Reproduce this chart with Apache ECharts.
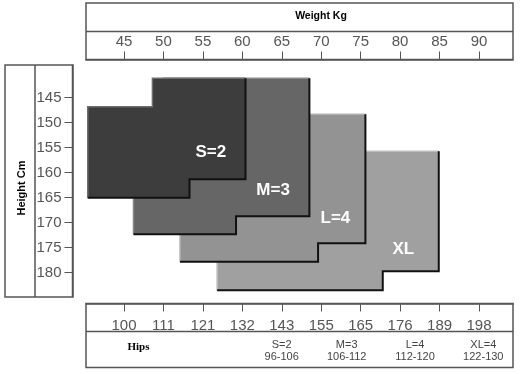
<!DOCTYPE html>
<html>
<head>
<meta charset="utf-8">
<script src="https://cdn.jsdelivr.net/npm/echarts@6/dist/echarts.min.js"></script>
<style>html,body{margin:0;padding:0;background:#fff}#c{width:526px;height:374px}</style>
</head>
<body>
<div id="c"></div>
<script>
// ---- data ----
var weightTicks = [45, 50, 55, 60, 65, 70, 75, 80, 85, 90];
var hipsTicks = ['100', '111', '121', '132', '143', '155', '165', '176', '189', '198'];
var heightTicks = [145, 150, 155, 160, 165, 170, 175, 180];
var sizeNames = ['S=2', 'M=3', 'L=4', 'XL'];
var hipSizeNames = ['S=2', 'M=3', 'L=4', 'XL=4'];
var hipRanges = ['96-106', '106-112', '112-120', '122-130'];
// outlines [weight kg, height cm], clockwise from the upper-left corner
var shapeS = [[40.4, 146.8], [48.6, 146.8], [48.6, 141.1], [60.4, 141.1], [60.4, 161.3], [53.3, 161.3], [53.3, 165.0], [40.4, 165.0]];
var shapeM = [[46.2, 150.0], [50.0, 150.0], [50.0, 141.1], [68.5, 141.1], [68.5, 168.7], [59.2, 168.7], [59.2, 172.3], [46.2, 172.3]];
var shapeL = [[52.1, 168.0], [58.0, 168.0], [58.0, 148.3], [75.6, 148.3], [75.6, 174.1], [69.6, 174.1], [69.6, 177.8], [52.1, 177.8]];
var shapeXL = [[56.8, 175.0], [66.0, 175.0], [66.0, 155.7], [84.9, 155.7], [84.9, 179.7], [77.8, 179.7], [77.8, 183.5], [56.8, 183.5]];
var labelWeight = [56.0, 63.9, 71.8, 80.4];
var labelHeight = [156.0, 163.5, 169.2, 175.3];

var shapes = [shapeS, shapeM, shapeL, shapeXL];
var fills = ['#3d3d3d', '#666666', '#939393', '#a0a0a0'];
var lights = ['#6e6e6e', '#8a8a8a', '#b2b2b2', '#bdbdbd'];

var FONT = 'Liberation Sans, Arial, sans-serif';
var XMIN = 40.18, XMAX = 94.31, YMIN = 138.46, YMAX = 184.86;
var lineCol = '#555';

var chart = echarts.init(document.getElementById('c'), null, {renderer: 'canvas'});

var order = [3, 2, 1, 0];
var option = {
  animation: false,
  backgroundColor: '#fff',
  grid: [
    {left: 86, top: 65, width: 427, height: 232, show: false},
    {left: 86, top: 3, width: 427, height: 56.5, show: true, borderColor: lineCol, borderWidth: 1.5, backgroundColor: 'transparent'},
    {left: 86, top: 303.5, width: 427, height: 64, show: true, borderColor: lineCol, borderWidth: 1.5, backgroundColor: 'transparent'},
    {left: 5, top: 65, width: 67.5, height: 232, show: true, borderColor: lineCol, borderWidth: 1.5, backgroundColor: 'transparent'}
  ],
  xAxis: [
    {gridIndex: 0, type: 'value', min: XMIN, max: XMAX, show: false},
    {gridIndex: 1, type: 'value', min: XMIN, max: XMAX, position: 'bottom',
      axisLine: {show: true, onZero: false, lineStyle: {color: lineCol, width: 1.5}},
      axisTick: {show: true, inside: true, length: 8, customValues: weightTicks, lineStyle: {color: lineCol, width: 1}},
      axisLabel: {show: true, inside: true, margin: 10, customValues: weightTicks, color: '#555', fontSize: 15, fontFamily: FONT,
        formatter: function (v) { return String(Math.round(v)); }},
      splitLine: {show: false}},
    {gridIndex: 2, type: 'value', min: XMIN, max: XMAX, position: 'top',
      axisLine: {show: true, onZero: false, lineStyle: {color: lineCol, width: 1.5}},
      axisTick: {show: true, inside: true, length: 8, customValues: weightTicks, lineStyle: {color: lineCol, width: 1}},
      axisLabel: {show: true, inside: true, margin: 15, customValues: weightTicks, color: '#555', fontSize: 15, fontFamily: FONT,
        formatter: function (v) { var i = weightTicks.indexOf(Math.round(v)); return i >= 0 ? hipsTicks[i] : ''; }},
      splitLine: {show: false}},
    {gridIndex: 3, type: 'value', min: 0, max: 1, show: false}
  ],
  yAxis: [
    {gridIndex: 0, type: 'value', min: YMIN, max: YMAX, inverse: true, show: false},
    {gridIndex: 1, type: 'value', min: 0, max: 1, show: false},
    {gridIndex: 2, type: 'value', min: 0, max: 1, show: false},
    {gridIndex: 3, type: 'value', min: YMIN, max: YMAX, inverse: true, position: 'right',
      axisLine: {show: true, onZero: false, lineStyle: {color: lineCol, width: 1.5}},
      axisTick: {show: true, inside: true, length: 8, customValues: heightTicks, lineStyle: {color: lineCol, width: 1}},
      axisLabel: {show: true, inside: true, margin: 11, customValues: heightTicks, color: '#555', fontSize: 15, fontFamily: FONT,
        formatter: function (v) { return String(Math.round(v)); }},
      splitLine: {show: false}}
  ],
  graphic: [
    {type: 'line', shape: {x1: 86, y1: 31.5, x2: 513, y2: 31.5}, style: {stroke: lineCol, lineWidth: 1.5}},
    {type: 'line', shape: {x1: 86, y1: 331.5, x2: 513, y2: 331.5}, style: {stroke: lineCol, lineWidth: 1.5}},
    {type: 'line', shape: {x1: 35, y1: 65, x2: 35, y2: 297}, style: {stroke: lineCol, lineWidth: 1.5}},
    {type: 'text', x: 321, y: 16.5, style: {text: 'Weight Kg', font: 'bold 10.5px ' + FONT, fill: '#000', align: 'center', verticalAlign: 'middle'}},
    {type: 'text', x: 21.5, y: 188, rotation: Math.PI / 2, style: {text: 'Height Cm', font: 'bold 11px ' + FONT, fill: '#000', align: 'center', verticalAlign: 'middle'}},
    {type: 'text', x: 138.5, y: 347.5, style: {text: 'Hips', font: 'bold 11px Liberation Serif, Times New Roman, serif', fill: '#000', align: 'center', verticalAlign: 'middle'}}
  ].concat(hipSizeNames.map(function (n, i) {
    var xs = [281.7, 346.7, 415, 483.3];
    return {type: 'text', x: xs[i], y: 351, style: {text: n + '\n' + hipRanges[i], font: '11px ' + FONT, lineHeight: 12.5, fill: '#444', align: 'center', verticalAlign: 'middle'}};
  })),
  series: [{
    type: 'custom',
    coordinateSystem: 'cartesian2d',
    xAxisIndex: 0, yAxisIndex: 0,
    clip: false,
    data: order.map(function (i) { return [labelWeight[i], labelHeight[i], i]; }),
    renderItem: function (params, api) {
      var i = api.value(2);
      var pts = shapes[i].map(function (p) { return api.coord(p); });
      var hi = [pts[7], pts[0], pts[1], pts[2], pts[3]];
      var sh = [pts[3], pts[4], pts[5], pts[6], pts[7]];
      var c = api.coord([api.value(0), api.value(1)]);
      return {
        type: 'group',
        children: [
          {type: 'polygon', shape: {points: pts}, style: {fill: fills[i]}},
          {type: 'polyline', shape: {points: hi}, style: {stroke: lights[i], lineWidth: 1.5, fill: null}},
          {type: 'polyline', shape: {points: sh}, style: {stroke: '#111', lineWidth: 2, fill: null}},
          {type: 'text', x: c[0], y: c[1], style: {text: sizeNames[i], font: 'bold 17px ' + FONT, fill: '#fff', align: 'center', verticalAlign: 'middle'}}
        ]
      };
    }
  }]
};
chart.setOption(option);
</script>
</body>
</html>
